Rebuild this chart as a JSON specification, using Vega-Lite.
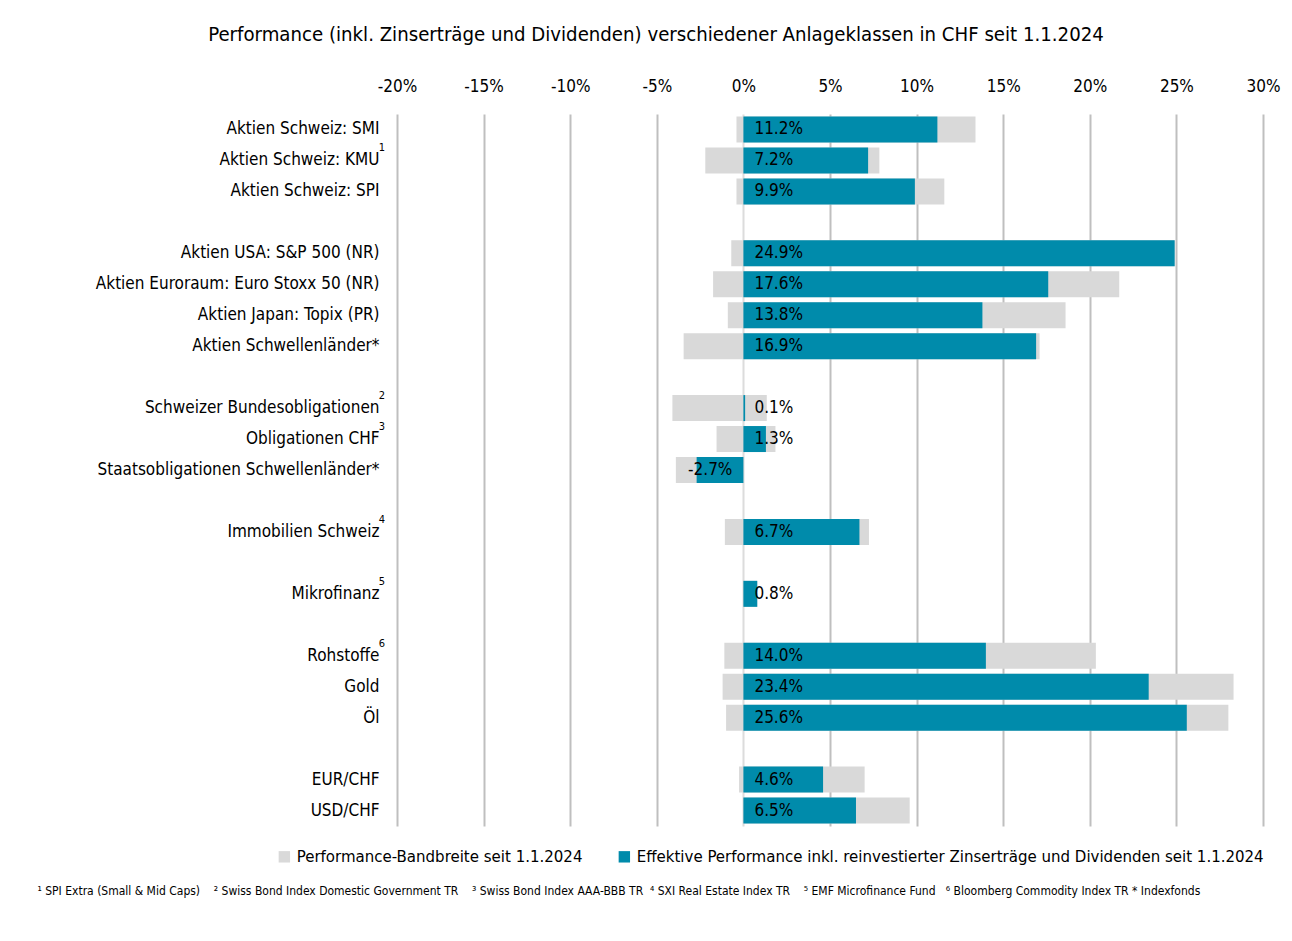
{
  "$schema": "https://vega.github.io/schema/vega-lite/v6.json",
  "width": 866,
  "height": 712,
  "autosize": {"type": "none"},
  "padding": {"left": 397, "top": 114, "right": 29, "bottom": 115},
  "background": "white",
  "config": {
    "font": "DejaVu Sans Condensed, sans-serif",
    "view": {"stroke": null},
    "axis": {"labelFont": "DejaVu Sans Condensed, sans-serif", "titleFont": "DejaVu Sans Condensed, sans-serif"},
    "legend": {"labelFont": "DejaVu Sans Condensed, sans-serif"}
  },
  "title": {
    "text": "Performance (inkl. Zinserträge und Dividenden) verschiedener Anlageklassen in CHF seit 1.1.2024",
    "fontSize": 20.2,
    "fontWeight": "normal",
    "color": "#000000",
    "anchor": "middle",
    "dx": -174,
    "offset": 32
  },
  "data": {
    "values": [
      {"cat": "Aktien Schweiz: SMI", "min": -0.4, "max": 13.4, "perf": 11.2, "note": ""},
      {"cat": "Aktien Schweiz: KMU", "min": -2.2, "max": 7.85, "perf": 7.2, "note": "1"},
      {"cat": "Aktien Schweiz: SPI", "min": -0.4, "max": 11.6, "perf": 9.9, "note": ""},
      {"cat": "Aktien USA: S&P 500 (NR)", "min": -0.7, "max": 24.9, "perf": 24.9, "note": ""},
      {"cat": "Aktien Euroraum: Euro Stoxx 50 (NR)", "min": -1.75, "max": 21.7, "perf": 17.6, "note": ""},
      {"cat": "Aktien Japan: Topix (PR)", "min": -0.9, "max": 18.6, "perf": 13.8, "note": ""},
      {"cat": "Aktien Schwellenländer*", "min": -3.45, "max": 17.1, "perf": 16.9, "note": ""},
      {"cat": "Schweizer Bundesobligationen", "min": -4.1, "max": 1.35, "perf": 0.1, "note": "2"},
      {"cat": "Obligationen CHF", "min": -1.55, "max": 1.85, "perf": 1.3, "note": "3"},
      {"cat": "Staatsobligationen Schwellenländer*", "min": -3.9, "max": 0, "perf": -2.7, "note": ""},
      {"cat": "Immobilien Schweiz", "min": -1.07, "max": 7.25, "perf": 6.7, "note": "4"},
      {"cat": "Mikrofinanz", "min": 0, "max": 0.8, "perf": 0.8, "note": "5"},
      {"cat": "Rohstoffe", "min": -1.1, "max": 20.35, "perf": 14.0, "note": "6"},
      {"cat": "Gold", "min": -1.2, "max": 28.3, "perf": 23.4, "note": ""},
      {"cat": "Öl", "min": -1.0, "max": 28.0, "perf": 25.6, "note": ""},
      {"cat": "EUR/CHF", "min": -0.25, "max": 7.0, "perf": 4.6, "note": ""},
      {"cat": "USD/CHF", "min": 0, "max": 9.6, "perf": 6.5, "note": ""}
    ]
  },
  "encoding": {
    "y": {
      "field": "cat",
      "type": "nominal",
      "scale": {
        "domain": ["Aktien Schweiz: SMI", "Aktien Schweiz: KMU", "Aktien Schweiz: SPI", " ",
          "Aktien USA: S&P 500 (NR)", "Aktien Euroraum: Euro Stoxx 50 (NR)", "Aktien Japan: Topix (PR)", "Aktien Schwellenländer*", "  ",
          "Schweizer Bundesobligationen", "Obligationen CHF", "Staatsobligationen Schwellenländer*", "   ",
          "Immobilien Schweiz", "    ", "Mikrofinanz", "     ", "Rohstoffe", "Gold", "Öl", "      ", "EUR/CHF", "USD/CHF"],
        "paddingInner": 0.16,
        "paddingOuter": 0.08
      },
      "axis": {
        "title": null,
        "domain": false,
        "ticks": false,
        "labelFontSize": 17,
        "labelColor": "#000000",
        "labelPadding": 18,
        "labelLimit": 400
      }
    }
  },
  "resolve": {"axis": {"x": "independent"}},
  "layer": [
    {
      "mark": {"type": "bar", "color": "#d9d9d9"},
      "encoding": {
        "x": {
          "field": "min",
          "type": "quantitative",
          "scale": {"domain": [-20, 30], "nice": false, "zero": false},
          "axis": {
            "orient": "top",
            "title": null,
            "values": [-20, -15, -10, -5, 0, 5, 10, 15, 20, 25, 30],
            "labelExpr": "datum.value + '%'",
            "labelFontSize": 17,
            "labelColor": "#000000",
            "labelPadding": 19,
            "labelFlush": false,
            "labelOverlap": false,
            "domain": false,
            "ticks": false,
            "grid": true,
            "gridWidth": 2,
            "gridColor": {"condition": {"test": "datum.value === 0", "value": "#dcdcdc"}, "value": "#bfbfbf"}
          }
        },
        "x2": {"field": "max"},
        "color": {
          "datum": "Performance-Bandbreite seit 1.1.2024",
          "type": "nominal",
          "scale": {
            "domain": ["Performance-Bandbreite seit 1.1.2024", "Effektive Performance inkl. reinvestierter Zinserträge und Dividenden seit 1.1.2024"],
            "range": ["#d9d9d9", "#008bab"]
          },
          "legend": {
            "title": null,
            "orient": "none",
            "direction": "horizontal",
            "legendX": -121,
            "legendY": 734,
            "symbolType": "square",
            "symbolSize": 130,
            "symbolStrokeWidth": 0,
            "labelFontSize": 16.7,
            "labelOffset": 4,
            "labelColor": "#000000",
            "columnPadding": 33,
            "labelLimit": 800
          }
        }
      }
    },
    {
      "mark": {"type": "bar", "color": "#008bab"},
      "encoding": {
        "x": {
          "field": "perf",
          "type": "quantitative",
          "axis": {
            "orient": "bottom",
            "labels": false,
            "ticks": false,
            "domain": false,
            "grid": false,
            "title": "¹ SPI Extra (Small & Mid Caps)\u00a0\u00a0\u00a0 ² Swiss Bond Index Domestic Government TR\u00a0\u00a0\u00a0 ³ Swiss Bond Index AAA-BBB TR\u00a0 ⁴ SXI Real Estate Index TR\u00a0\u00a0\u00a0 ⁵ EMF Microfinance Fund\u00a0\u00a0 ⁶ Bloomberg Commodity Index TR * Indexfonds",
            "titleFontSize": 12,
            "titleFontWeight": "normal",
            "titleColor": "#000000",
            "titleAnchor": "start",
            "titleAlign": "left",
            "titleBaseline": "middle",
            "titleX": -360,
            "titleY": 64
          }
        },
        "x2": {"datum": 0},
        "color": {"datum": "Effektive Performance inkl. reinvestierter Zinserträge und Dividenden seit 1.1.2024", "type": "nominal"}
      }
    },
    {
      "transform": [
        {"filter": "datum.perf >= 0"},
        {"calculate": "format(datum.perf, '.1f') + '%'", "as": "lbl"}
      ],
      "mark": {"type": "text", "align": "left", "baseline": "middle", "dx": 11, "fontSize": 17, "color": "#000000"},
      "encoding": {
        "x": {"datum": 0, "type": "quantitative", "axis": null},
        "text": {"field": "lbl"}
      }
    },
    {
      "transform": [
        {"filter": "datum.perf < 0"},
        {"calculate": "'-' + format(-datum.perf, '.1f') + '%'", "as": "lbl"}
      ],
      "mark": {"type": "text", "align": "right", "baseline": "middle", "dx": -11, "fontSize": 17, "color": "#000000"},
      "encoding": {
        "x": {"datum": 0, "type": "quantitative", "axis": null},
        "text": {"field": "lbl"}
      }
    },
    {
      "transform": [{"filter": "datum.note != ''"}],
      "mark": {"type": "text", "align": "center", "baseline": "middle", "dx": -15, "dy": -12, "fontSize": 11, "color": "#000000"},
      "encoding": {
        "x": {"datum": -20, "type": "quantitative", "axis": null},
        "text": {"field": "note"}
      }
    }
  ]
}
